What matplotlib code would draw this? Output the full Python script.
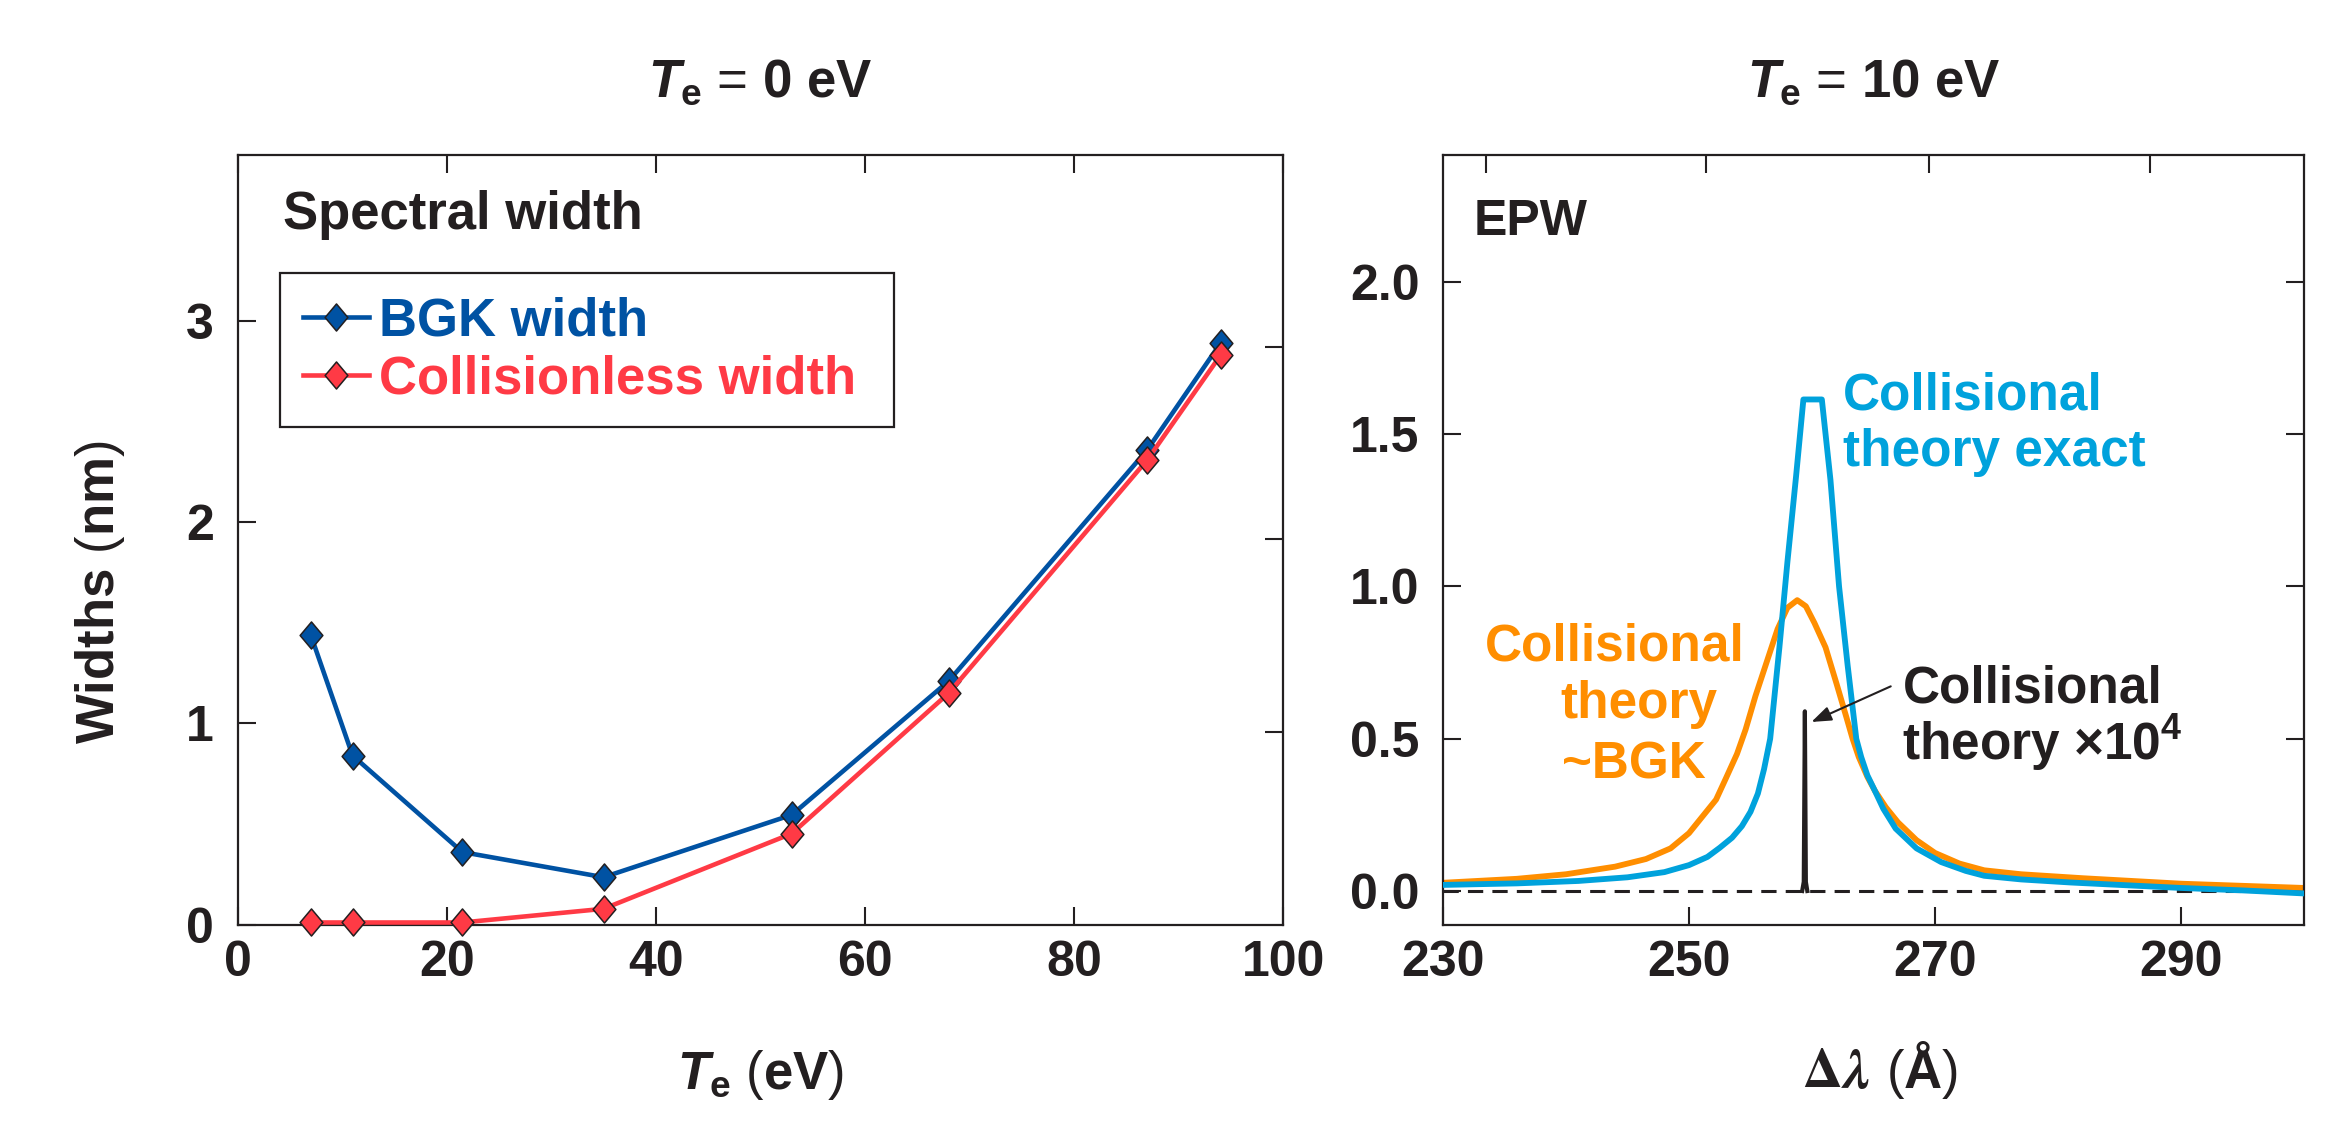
import matplotlib
matplotlib.use('Agg')
import matplotlib.pyplot as plt
from matplotlib.path import Path

plt.rcParams['font.family'] = ['Liberation Sans', 'DejaVu Sans']
plt.rcParams['font.weight'] = 'bold'
plt.rcParams['axes.labelweight'] = 'bold'
plt.rcParams['mathtext.fontset'] = 'custom'
plt.rcParams['mathtext.rm'] = 'Liberation Sans:bold'
plt.rcParams['mathtext.it'] = 'Liberation Sans:italic:bold'
plt.rcParams['mathtext.bf'] = 'Liberation Sans:bold'
plt.rcParams['axes.linewidth'] = 1.6

INK = '#231F20'
BGK_BLUE = '#0052A3'
COLL_RED = '#FF3A45'
EXACT_CYAN = '#00A2DC'
BGK_ORANGE = '#FF8E00'

# 左图: 谱宽 vs Te
te = [7, 11, 21.5, 35, 53, 68, 87, 94]
bgk_width = [1.44, 0.84, 0.36, 0.235, 0.545, 1.21, 2.36, 2.89]
collisionless_width = [0.01, 0.01, 0.01, 0.078, 0.452, 1.15, 2.31, 2.83]

# 右图: EPW 谱 (Te = 10 eV)
dlam_exact = [230, 236, 241, 245, 248, 250, 251.5, 252.5, 253.5, 254.3, 255.0, 255.6,
              256.1, 256.6, 257.35, 258, 258.7, 259.3, 260.8, 261.5, 262.2,
              262.9, 263.6, 264.0, 264.5, 265.1, 265.8, 266.8, 268.5, 270.5, 272.5,
              274, 277, 281, 286, 290, 295, 300]
epw_exact = [0.02, 0.025, 0.033, 0.045, 0.062, 0.085, 0.112, 0.142, 0.175, 0.213, 0.26, 0.32,
             0.40, 0.50, 0.8, 1.08, 1.36, 1.614, 1.614, 1.35, 1.0,
             0.74, 0.5, 0.44, 0.38, 0.33, 0.27, 0.205, 0.14, 0.095, 0.066,
             0.05, 0.038, 0.028, 0.018, 0.01, 0.002, -0.008]
dlam_bgk = [230, 236, 240, 244, 246.5, 248.5, 250, 251.2, 252.2, 253.0, 253.9, 254.6,
            255.4, 256.3, 257.2, 258.0, 258.8, 259.5, 260.2, 261.1, 262.0, 262.8, 263.3,
            263.8, 264.5, 265.1, 266.0, 267.0, 268.5, 270, 272, 274, 277, 282, 290, 300]
epw_bgk = [0.027, 0.04, 0.055, 0.08, 0.105, 0.14, 0.19, 0.25, 0.30, 0.37, 0.45, 0.53,
           0.64, 0.75, 0.86, 0.93, 0.955, 0.935, 0.88, 0.8, 0.68, 0.57, 0.5,
           0.44, 0.375, 0.33, 0.275, 0.225, 0.167, 0.125, 0.09, 0.068, 0.055, 0.042, 0.024, 0.01]
dlam_spike = [259.2, 259.33, 259.42, 259.5, 259.62]
epw_spike = [0.0, 0.03, 0.59, 0.03, 0.0]

left_xticks = [0, 20, 40, 60, 80, 100]
left_yticks = [0, 1, 2, 3]
left_right_ticks = [0.957, 1.916, 2.872]   # 原图右侧刻度与左侧不对齐
right_xticks = [230, 250, 270, 290]
right_top_ticks = [233.5, 251.4, 269.5, 287.5]
right_yticks = [0.0, 0.5, 1.0, 1.5, 2.0]

DIAMOND = Path([(0, 1), (0.84, 0), (0, -1), (-0.84, 0), (0, 1)], closed=True)

fig = plt.figure(figsize=(23.29, 11.39), dpi=100)
ax1 = fig.add_axes([0.10198, 0.18832, 0.44903, 0.67594])
ax2 = fig.add_axes([0.61958, 0.18832, 0.36969, 0.67594])


def style_ticks(ax):
    ax.tick_params(direction='in', length=13, width=1.5, labelsize=36, colors=INK)
    ax.tick_params(axis='x', pad=11.5)
    ax.tick_params(axis='y', pad=17)
    for s in ax.spines.values():
        s.set_color(INK)


# ---------- 左图 ----------
ax1.plot(te, bgk_width, color=BGK_BLUE, lw=3.3, marker=DIAMOND, ms=19.5,
         mfc=BGK_BLUE, mec=INK, mew=1.1, label='BGK width', clip_on=False, zorder=3)
ax1.plot(te, collisionless_width, color=COLL_RED, lw=3.3, marker=DIAMOND, ms=19.5,
         mfc=COLL_RED, mec=INK, mew=1.1, label='Collisionless width', clip_on=False, zorder=4)
ax1.set_xlim(0, 100)
ax1.set_ylim(0, 3.827)
ax1.set_xticks(left_xticks)
ax1.set_yticks(left_yticks)
style_ticks(ax1)
ax1.tick_params(top=True)
tw = ax1.twinx()
tw.set_ylim(ax1.get_ylim())
tw.set_yticks(left_right_ticks)
tw.tick_params(direction='in', length=13, width=1.5, labelright=False, colors=INK)
for s in tw.spines.values():
    s.set_visible(False)

# 括号用细体, 其余粗体
ax1.set_xlabel(r'$T_{\mathrm{e}}$ ($\mathrm{eV}$)', fontsize=38, color=INK, fontweight='normal')
ax1.xaxis.label.set_va('baseline')
ax1.xaxis.set_label_coords(0.5, -0.2137)
ax1.set_ylabel(r'$\mathrm{Widths}$ ($\mathrm{nm}$)', fontsize=38, color=INK, fontweight='normal')
ax1.yaxis.set_label_coords(-0.1057, 0.432)
ax1.text(0.5, 1.0748, r'$T_{\mathrm{e}}$ = $\mathrm{0}$ $\mathrm{eV}$', transform=ax1.transAxes,
         ha='center', va='baseline', fontsize=38, color=INK, fontweight='normal')
ax1.text(0.0432, 0.904, 'Spectral width', transform=ax1.transAxes,
         va='baseline', fontsize=38, color=INK)

leg = ax1.legend(loc='upper left', bbox_to_anchor=(0.0406, 0.0, 0.587, 0.8458),
                 mode='expand', borderaxespad=0, fontsize=38, handlelength=1.25,
                 handletextpad=0.2, borderpad=0.43, labelspacing=0.16,
                 fancybox=False, edgecolor=INK, framealpha=1)
leg.get_frame().set_linewidth(1.6)
for t, c in zip(leg.get_texts(), [BGK_BLUE, COLL_RED]):
    t.set_color(c)

# ---------- 右图 ----------
ax2.axhline(0, color=INK, lw=2.2, dashes=(5, 3), zorder=1)
ax2.plot(dlam_bgk, epw_bgk, color=BGK_ORANGE, lw=4.2, zorder=2)
ax2.plot(dlam_exact, epw_exact, color=EXACT_CYAN, lw=4.2, zorder=3)
ax2.plot(dlam_spike, epw_spike, color=INK, lw=3.0, zorder=4)
ax2.set_xlim(230, 300)
ax2.set_ylim(-0.11, 2.418)
ax2.set_xticks(right_xticks)
ax2.set_yticks(right_yticks)
ax2.set_yticklabels(['%.1f' % v for v in right_yticks])
style_ticks(ax2)
ax2.tick_params(right=True)
ty = ax2.twiny()
ty.set_xlim(ax2.get_xlim())
ty.set_xticks(right_top_ticks)
ty.tick_params(direction='in', length=13, width=1.5, labeltop=False, colors=INK)
for s in ty.spines.values():
    s.set_visible(False)

# x 轴标题: Δλ 用衬线体, (Å) 用无衬线
ax2.text(0.4959, -0.2127, r'$\Delta\lambda$', transform=ax2.transAxes, ha='right',
         va='baseline', fontsize=40, color=INK, fontweight='normal', math_fontfamily='stix')
ax2.text(0.5142, -0.2127, r'($\mathbf{Å}$)', transform=ax2.transAxes, ha='left',
         va='baseline', fontsize=38, color=INK, fontweight='normal')
ax2.text(0.5, 1.0748, r'$T_{\mathrm{e}}$ = $\mathrm{10}$ $\mathrm{eV}$', transform=ax2.transAxes,
         ha='center', va='baseline', fontsize=38, color=INK, fontweight='normal')
ax2.text(0.036, 0.895, 'EPW', transform=ax2.transAxes, va='baseline', fontsize=36, color=INK)

# 标注文字
ax2.text(262.55, 1.581, 'Collisional', fontsize=37, color=EXACT_CYAN, va='baseline')
ax2.text(262.55, 1.397, 'theory exact', fontsize=37, color=EXACT_CYAN, va='baseline')
ax2.text(233.4, 0.757, 'Collisional', fontsize=37, color=BGK_ORANGE, va='baseline')
ax2.text(239.55, 0.568, 'theory', fontsize=37, color=BGK_ORANGE, va='baseline')
ax2.text(239.7, 0.371, '~BGK', fontsize=37, color=BGK_ORANGE, va='baseline')
ax2.text(267.35, 0.62, 'Collisional', fontsize=37, color=INK, va='baseline')
ax2.text(267.35, 0.431, r'theory ×10$^{4}$', fontsize=37, color=INK, va='baseline')
ax2.annotate('', xy=(259.95, 0.555), xytext=(266.4, 0.672),
             arrowprops=dict(arrowstyle='-|>,head_length=0.6,head_width=0.22',
                             color=INK, lw=1.5, shrinkA=0, shrinkB=0, mutation_scale=20))

fig.savefig('out.png', dpi=100)
